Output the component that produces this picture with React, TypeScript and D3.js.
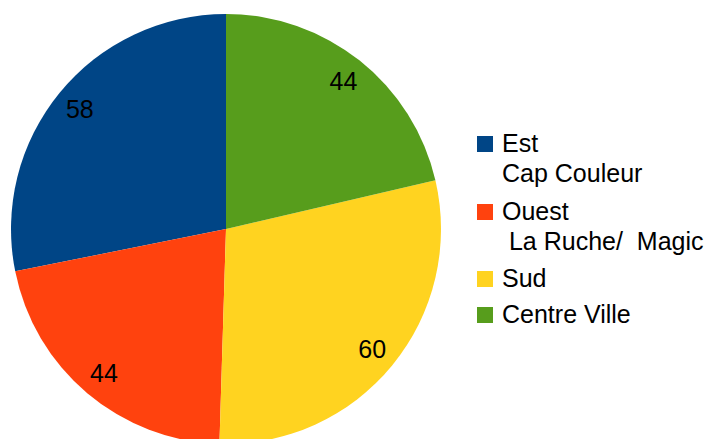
import * as d3 from "d3";
import { useEffect, useRef } from "react";

const categories = ["Est", "Ouest", "Sud", "Centre Ville"];
const subLabels = ["Cap Couleur", " La Ruche/  Magic", "", ""];
const values = [58, 44, 60, 44];
const colors = ["#004586", "#ff420e", "#ffd320", "#579d1c"];

const width = 707;
const height = 439;

export default function App() {
  const ref = useRef<SVGSVGElement | null>(null);

  useEffect(() => {
    if (!ref.current) return;
    const svg = d3.select(ref.current);
    svg.selectAll("*").remove();

    const cx = 226;
    const cy = 229;
    const r = 215;

    // slices run counter-clockwise from 12 o'clock, like the office chart
    const pie = d3
      .pie<number>()
      .sort(null)
      .startAngle(0)
      .endAngle(-2 * Math.PI);
    const arcs = pie(values);

    const arc = d3.arc<d3.PieArcDatum<number>>().innerRadius(0).outerRadius(r);
    const labelArc = d3
      .arc<d3.PieArcDatum<number>>()
      .innerRadius(189)
      .outerRadius(189);

    const g = svg.append("g").attr("transform", `translate(${cx},${cy})`);

    g.selectAll("path")
      .data(arcs)
      .enter()
      .append("path")
      .attr("d", arc)
      .attr("fill", (_, i) => colors[i]);

    g.selectAll("text")
      .data(arcs)
      .enter()
      .append("text")
      .attr("transform", d => `translate(${labelArc.centroid(d)})`)
      .attr("text-anchor", "middle")
      .attr("dy", "0.36em")
      .style("font-size", "25px")
      .text(d => d.data);

    // legend
    const rows = [152, 220, 287, 323];
    const lg = svg.append("g");
    categories.forEach((c, i) => {
      lg.append("rect")
        .attr("x", 477)
        .attr("y", rows[i] - 16)
        .attr("width", 16)
        .attr("height", 16)
        .attr("fill", colors[i]);
      lg.append("text")
        .attr("x", 502)
        .attr("y", rows[i])
        .style("font-size", "25px")
        .text(c);
      if (subLabels[i]) {
        lg.append("text")
          .attr("x", 502)
          .attr("y", rows[i] + 30)
          .style("font-size", "25px")
          .style("white-space", "pre")
          .text(subLabels[i]);
      }
    });
  }, []);

  return (
    <svg
      ref={ref}
      width={width}
      height={height}
      style={{
        position: "absolute",
        left: 0,
        top: 0,
        background: "#fff",
        fontFamily: "'Liberation Sans', Arial, sans-serif",
        fill: "#000"
      }}
    />
  );
}
